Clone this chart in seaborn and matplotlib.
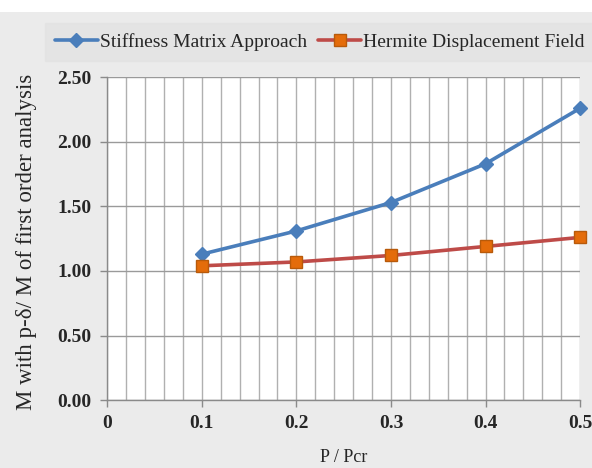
import matplotlib
matplotlib.use("Agg")
import matplotlib.pyplot as plt
import seaborn as sns
import pandas as pd
import numpy as np
from matplotlib.patches import Rectangle
from matplotlib.lines import Line2D

x_vals = [0.1, 0.2, 0.3, 0.4, 0.5]
stiffness = [1.13, 1.31, 1.53, 1.83, 2.26]
hermite = [1.04, 1.07, 1.12, 1.19, 1.26]
series_names = ["Stiffness Matrix Approach", "Hermite Displacement Field"]
x_ticks = [0, 0.1, 0.2, 0.3, 0.4, 0.5]
x_tick_labels = ["0", "0.1", "0.2", "0.3", "0.4", "0.5"]
y_ticks = [0.0, 0.5, 1.0, 1.5, 2.0, 2.5]

df = pd.DataFrame({
    "x": x_vals * 2,
    "y": stiffness + hermite,
    "series": [series_names[0]] * 5 + [series_names[1]] * 5,
})

sns.set_theme(style="white")
plt.rcParams["font.family"] = ["Liberation Serif", "DejaVu Serif"]

fig = plt.figure(figsize=(5.92, 4.68), dpi=100)
fig.patch.set_facecolor("#ebebeb")
fig.patches.append(Rectangle((0, 0.975), 1, 0.025, transform=fig.transFigure,
                             facecolor="white", edgecolor="none", zorder=-1))
ax = fig.add_axes([0.181, 0.145, 0.799, 0.69])
ax.set_facecolor("white")

palette = {series_names[0]: "#4a7ebb", series_names[1]: "#be4b48"}
sns.lineplot(data=df, x="x", y="y", hue="series", palette=palette, ax=ax,
             linewidth=2.6, legend=False)
ax.plot(x_vals, stiffness, linestyle="none", marker="D", markersize=7,
        markerfacecolor="#4a7ebb", markeredgecolor="#4a7ebb", zorder=5, clip_on=False)
ax.plot(x_vals, hermite, linestyle="none", marker="s", markersize=9,
        markerfacecolor="#e46c0a", markeredgecolor="#b85a0a", zorder=5, clip_on=False)

ax.set_xlim(0, 0.5)
ax.set_ylim(0, 2.5)
ax.set_xticks(x_ticks)
ax.set_xticklabels(x_tick_labels, fontsize=14, fontweight="bold")
ax.set_yticks(y_ticks)
ax.set_yticklabels([f"{v:.2f}" for v in y_ticks], fontsize=14, fontweight="bold")
ax.set_xticks(np.arange(0, 0.5001, 0.02), minor=True)
ax.grid(True, which="major", axis="y", color="#9a9a9a", linewidth=1)
ax.grid(True, which="both", axis="x", color="#b0b0b0", linewidth=1)
ax.set_axisbelow(True)
for s in ["top", "right"]:
    ax.spines[s].set_visible(False)
for s in ["left", "bottom"]:
    ax.spines[s].set_color("#8a8a8a")
    ax.spines[s].set_linewidth(1)
ax.tick_params(axis="both", which="major", direction="out", length=5,
               color="#8a8a8a", width=1, left=True, bottom=True, pad=6)
ax.tick_params(axis="x", which="minor", length=0)

ax.set_xlabel("P / Pcr", fontsize=13)
ax.xaxis.set_label_coords(0.5, -0.15)
ax.set_ylabel("M with p-\u03b4/ M of first order analysis", fontsize=16.5)
ax.yaxis.set_label_coords(-0.148, 0.49)

handles = [
    Line2D([], [], color="#4a7ebb", linewidth=2.6, marker="D", markersize=7,
           markerfacecolor="#4a7ebb", markeredgecolor="#4a7ebb"),
    Line2D([], [], color="#be4b48", linewidth=2.6, marker="s", markersize=9,
           markerfacecolor="#e46c0a", markeredgecolor="#b85a0a"),
]
leg = fig.legend(handles, series_names, loc="center", bbox_to_anchor=(0.54, 0.91),
                 ncol=2, frameon=True, fontsize=14, handlelength=2.2,
                 handletextpad=0.1, columnspacing=0.6, borderpad=0.5,
                 fancybox=False)
leg.get_frame().set_facecolor("#e3e3e3")
leg.get_frame().set_edgecolor("#e3e3e3")

fig.savefig("out.png", dpi=100, facecolor=fig.get_facecolor())
